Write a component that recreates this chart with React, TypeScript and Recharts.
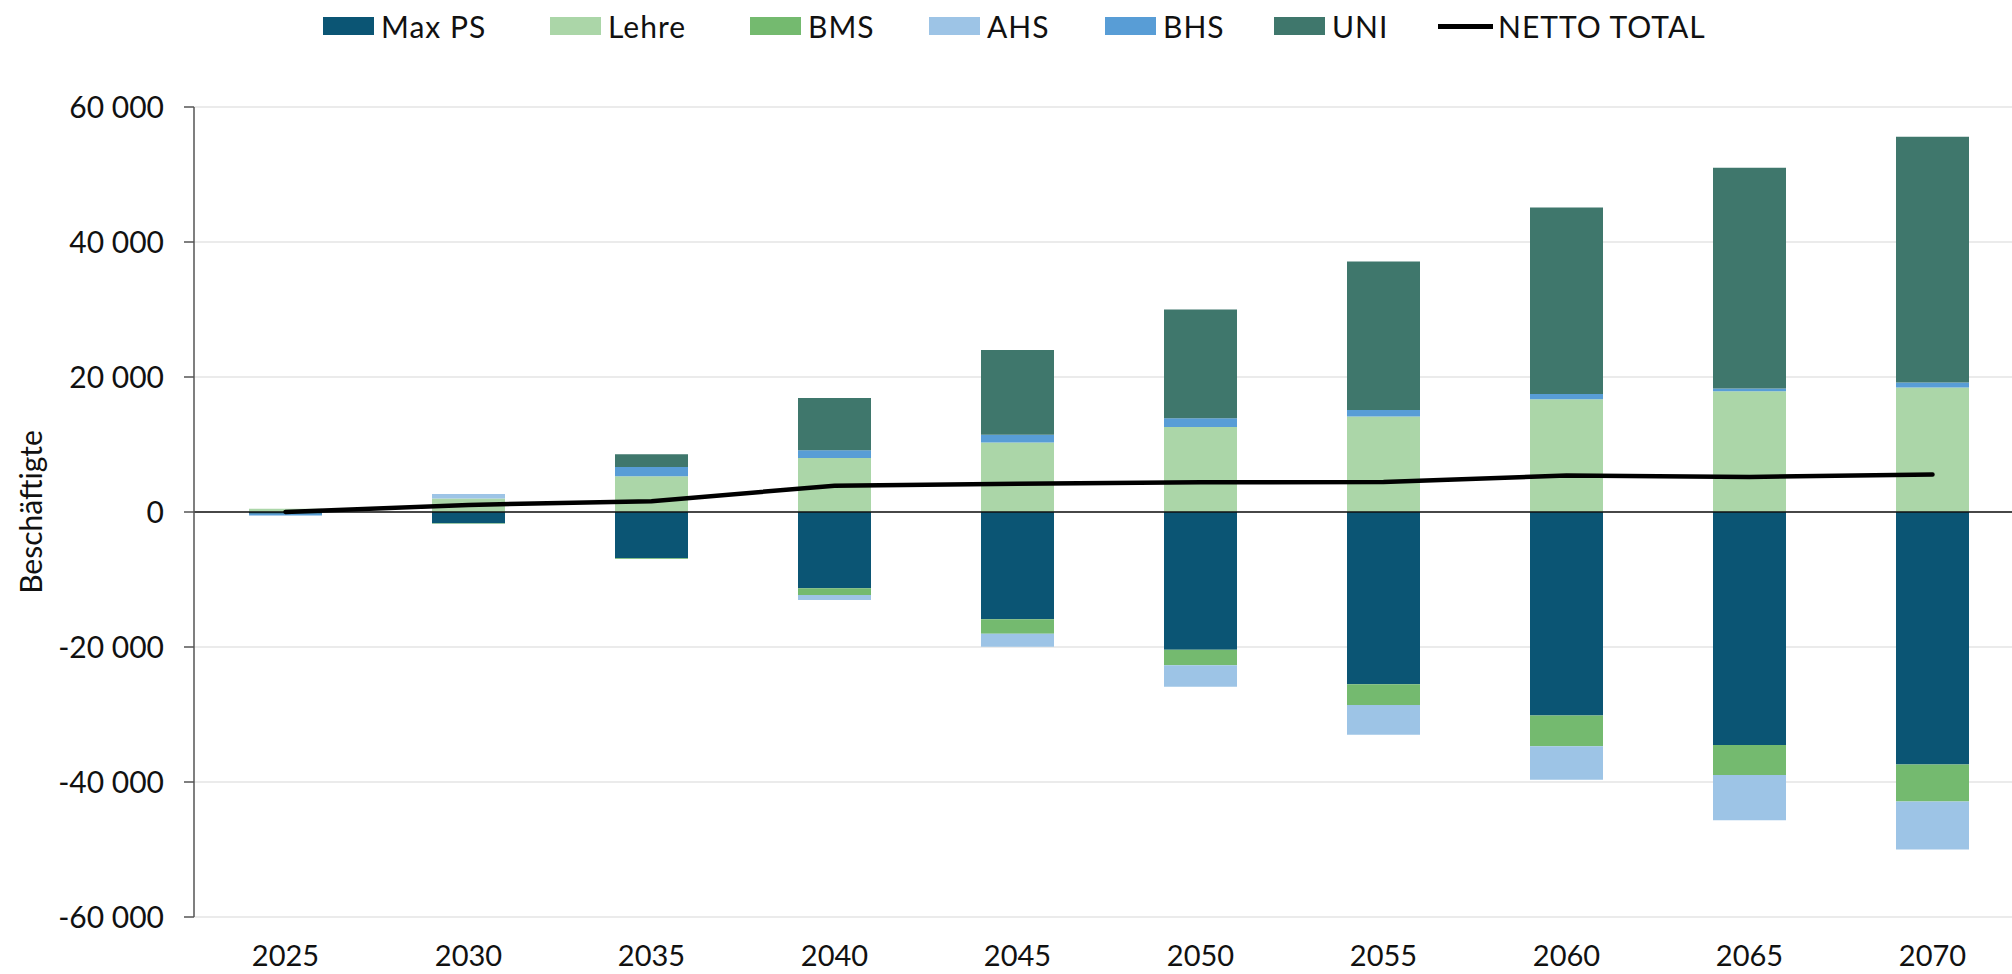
import { ComposedChart, Bar, Line, XAxis, YAxis, CartesianGrid, Legend, ReferenceLine } from 'recharts';

const YEARS = ['2025', '2030', '2035', '2040', '2045', '2050', '2055', '2060', '2065', '2070'];
const MAX_PS = [-250, -1650, -6850, -11300, -15900, -20400, -25500, -30150, -34500, -37400];
const LEHRE = [500, 2000, 5300, 8000, 10300, 12600, 14150, 16700, 17900, 18450];
const BMS = [0, -100, -100, -1000, -2150, -2300, -3100, -4550, -4450, -5500];
const AHS = [0, 650, 0, -750, -1900, -3200, -4400, -4950, -6700, -7100];
const BHS = [-250, 0, 1350, 1150, 1150, 1300, 950, 800, 400, 750];
const UNI = [0, 0, 1900, 7750, 12550, 16100, 22000, 27600, 32700, 36400];
const NETTO = [0, 1050, 1600, 3900, 4200, 4400, 4450, 5400, 5200, 5550];
const Y_TICKS = [-60000, -40000, -20000, 0, 20000, 40000, 60000];

const data = YEARS.map((year, i) => ({
    year,
    maxps: MAX_PS[i],
    lehre: LEHRE[i],
    bms: BMS[i],
    ahs: AHS[i],
    bhs: BHS[i],
    uni: UNI[i],
    netto: NETTO[i],
}));

// legend slot widths picked to line up with the reference spacing
const SERIES = [
    { key: 'maxps', name: 'Max PS', color: '#0b5574', slot: 227 },
    { key: 'lehre', name: 'Lehre', color: '#abd6a8', slot: 200 },
    { key: 'bms', name: 'BMS', color: '#74ba6f', slot: 179 },
    { key: 'ahs', name: 'AHS', color: '#9dc4e6', slot: 176 },
    { key: 'bhs', name: 'BHS', color: '#589dd6', slot: 169 },
    { key: 'uni', name: 'UNI', color: '#3f776c', slot: 164 },
];

const FONT = 'Lato, "Noto Sans", sans-serif';

const fmt = (v: number) => {
    const s = String(Math.abs(v)).replace(/\B(?=(\d{3})+(?!\d))/g, ' ');
    return v < 0 ? '-' + s : s;
};

function LegendBox() {
    return (
        <div style={{ height: 99, display: 'flex', alignItems: 'flex-start', paddingLeft: 315, fontFamily: FONT, fontSize: 30, lineHeight: '36px', color: '#111', letterSpacing: 1 }}>
            {SERIES.map((s) => (
                <div key={s.key} style={{ display: 'flex', alignItems: 'center', height: 36, width: s.slot, flex: 'none' }}>
                    <span style={{ width: 51, height: 18, background: s.color, marginRight: 7, display: 'inline-block', flex: 'none' }} />
                    <span style={{ whiteSpace: 'nowrap' }}>{s.name}</span>
                </div>
            ))}
            <div style={{ display: 'flex', alignItems: 'center', height: 36, flex: 'none' }}>
                <span style={{ width: 55, height: 5, background: '#000', marginRight: 5, display: 'inline-block', flex: 'none' }} />
                <span style={{ whiteSpace: 'nowrap' }}>NETTO TOTAL</span>
            </div>
        </div>
    );
}

export default function App() {
    return (
        <div style={{ width: 2012, height: 974, overflow: 'hidden', background: '#fff' }}>
            <style>{'body{margin:0;overflow:hidden}'}</style>
            <ComposedChart
                width={2028}
                height={974}
                data={data}
                stackOffset="sign"
                barCategoryGap="30%"
                margin={{ top: 8, right: 4, bottom: 8, left: 8 }}
            >
                <Legend verticalAlign="top" align="left" content={() => <LegendBox />} />
                <CartesianGrid horizontal vertical={false} stroke="#ebebeb" strokeWidth={2} />
                <XAxis
                    dataKey="year"
                    height={49}
                    tickLine={false}
                    axisLine={false}
                    tickSize={0}
                    tickMargin={28}
                    tick={{ fontFamily: FONT, fontSize: 29, fill: '#111' }}
                />
                <YAxis
                    width={186}
                    domain={[-60000, 60000]}
                    ticks={Y_TICKS}
                    interval={0}
                    tickFormatter={fmt}
                    tickSize={10}
                    tickMargin={20}
                    stroke="#555"
                    strokeWidth={1.5}
                    tick={{ fontFamily: FONT, fontSize: 30, fill: '#111' }}
                    label={{
                        content: (props: any) => {
                            const vb = props.viewBox || {};
                            const cy = (vb.y || 0) + (vb.height || 0) / 2;
                            return (
                                <text
                                    x={30}
                                    y={cy}
                                    transform={`rotate(-90, 30, ${cy})`}
                                    textAnchor="middle"
                                    dominantBaseline="central"
                                    style={{ fontFamily: FONT, fontSize: 30, fill: '#111' }}
                                >
                                    Beschäftigte
                                </text>
                            );
                        },
                    }}
                />
                {SERIES.map((s) => (
                    <Bar key={s.key} dataKey={s.key} name={s.name} stackId="a" fill={s.color} barSize={73} isAnimationActive={false} />
                ))}
                <ReferenceLine y={0} stroke="#111" strokeWidth={1.5} />
                <Line
                    dataKey="netto"
                    name="NETTO TOTAL"
                    type="linear"
                    stroke="#000"
                    strokeWidth={4.5}
                    strokeLinecap="round"
                    dot={false}
                    activeDot={false}
                    isAnimationActive={false}
                />
            </ComposedChart>
        </div>
    );
}
